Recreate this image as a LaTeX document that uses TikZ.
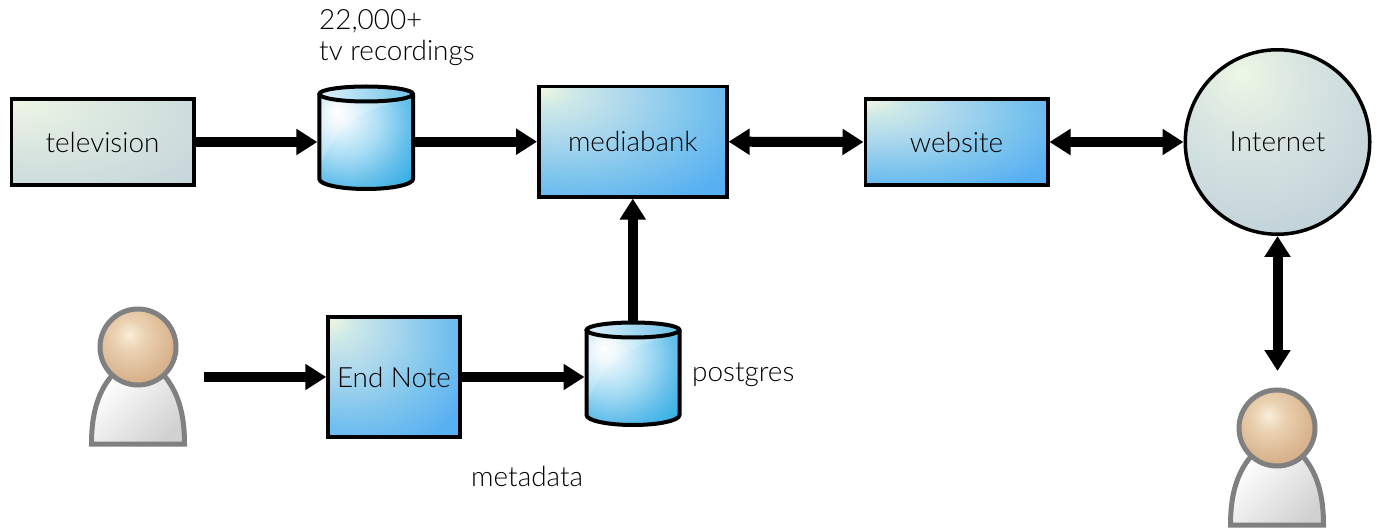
\documentclass[tikz,border=0pt]{standalone}
\usepackage{fontspec}
\setmainfont{Lato Light}
\usetikzlibrary{arrows.meta}
\definecolor{ink}{HTML}{000000}
\definecolor{headtop}{HTML}{F9EEDA}
\definecolor{headmid}{HTML}{EBD2B2}
\definecolor{headedge}{HTML}{D8B28C}
\definecolor{cylface}{HTML}{DFF2FB}
\definecolor{cylfaceb}{HTML}{6CC0E8}
\pgfdeclareradialshading{headshade}{\pgfpoint{-6bp}{8.5bp}}{color(0bp)=(headtop); color(10bp)=(headmid); color(28bp)=(headedge); color(100bp)=(headedge)}
\pgfdeclareradialshading{blueshade}{\pgfpoint{-25bp}{25bp}}{rgb(0bp)=(0.945,0.976,0.878); rgb(8bp)=(0.80,0.91,0.91); rgb(20bp)=(0.66,0.84,0.93); rgb(33bp)=(0.49,0.77,0.93); rgb(47bp)=(0.34,0.69,0.95); rgb(71bp)=(0.28,0.67,0.96); rgb(100bp)=(0.28,0.67,0.96)}
\pgfdeclareradialshading{grayshade}{\pgfpoint{-25bp}{25bp}}{rgb(0bp)=(0.93,0.97,0.90); rgb(20bp)=(0.86,0.91,0.88); rgb(45bp)=(0.79,0.85,0.86); rgb(71bp)=(0.72,0.80,0.84); rgb(100bp)=(0.72,0.80,0.84)}
\pgfdeclareradialshading{globeshade}{\pgfpoint{-10bp}{19bp}}{rgb(0bp)=(0.93,0.97,0.90); rgb(15bp)=(0.85,0.90,0.88); rgb(28bp)=(0.80,0.86,0.87); rgb(45bp)=(0.73,0.80,0.84); rgb(100bp)=(0.73,0.80,0.84)}
\pgfdeclareradialshading{cylshade}{\pgfpoint{-16bp}{16bp}}{rgb(0bp)=(1,1,1); rgb(6bp)=(0.93,0.97,0.99); rgb(20bp)=(0.67,0.87,0.96); rgb(33bp)=(0.40,0.75,0.92); rgb(46bp)=(0.16,0.67,0.89); rgb(100bp)=(0.16,0.67,0.89)}
\tikzset{
  x=1pt,y=-1pt,
  every node/.style={font=\fontsize{27.9}{31}\selectfont,text=ink},
  bluebox/.style={draw=black,line width=3.5pt,rectangle,inner sep=0pt,outer sep=1.75pt,shading=blueshade,minimum width=#1},
  graybox/.style={draw=black,line width=3.5pt,rectangle,inner sep=0pt,outer sep=1.75pt,shading=grayshade},
  globe/.style={circle,draw=black,line width=3.5pt,inner sep=0pt,outer sep=1.75pt,shading=globeshade},
  flow/.style={line width=10pt,draw=black,-{Triangle[length=21pt,width=25pt]}},
  flowboth/.style={line width=10pt,draw=black,{Triangle[length=21pt,width=25pt]}-{Triangle[length=21pt,width=25pt]}},
  anchorbox/.style={rectangle,inner sep=0pt,outer sep=0pt,draw=none},
  textlabel/.style={anchor=west,inner sep=0pt,align=left},
  personline/.style={draw=black!50,line width=5pt},
}
\newcommand{\cylpath}[4]{(#1,#3) -- (#1,#4) arc[start angle=180,end angle=0,x radius={(#2-#1)/2},y radius=10] -- (#2,#3)}
\newcommand{\cylinderat}[4]{% left right side-top side-bottom
  \shade[shading=cylshade] \cylpath{#1}{#2}{#3}{#4} -- cycle;
  \begin{scope}
    \clip \cylpath{#1}{#2}{#3}{#4} -- cycle;
    \fill[white,opacity=.18] (#1,#3) -- (#1,{#4-10}) .. controls ({#1+15},{#3+30}) and ({#1+50},{#3+8}) .. (#2,{#3+5}) -- (#2,{#3-15}) -- (#1,{#3-15}) -- cycle;
  \end{scope}
  \draw[black,line width=4pt,line join=round] \cylpath{#1}{#2}{#3}{#4};
  \draw[black,line width=4pt,left color=cylface,right color=cylfaceb] ({(#1+#2)/2},{#3-1}) ellipse[x radius={(#2-#1)/2},y radius=7.5];
}
\newcommand{\personat}[2]{%
  \begin{scope}[shift={(#1,#2)}]
    \filldraw[personline,top color=white,bottom color=black!18,shading angle=45]
      (-46.5,97) .. controls (-46.5,66) and (-40,44) .. (-24,26) -- (24,26) .. controls (40,44) and (46.5,66) .. (46.5,97) -- cycle;
    \shade[shading=headshade,draw=black!50,line width=5pt] (0,0) circle[radius=38];
  \end{scope}
}
\begin{document}
\begin{tikzpicture}
\useasboundingbox (0,0) rectangle (1378,529);
\node[graybox,minimum width=182.5pt,minimum height=86pt] (tv) at (102.5,142) {television};
\node[bluebox=188pt,minimum height=110.3pt] (mb) at (632.8,141.7) {mediabank};
\node[bluebox=182.5pt,minimum height=86pt] (web) at (956.5,142) {website};
\node[globe,minimum size=184.5pt] (net) at (1277.5,142) {Internet};
\node[bluebox=132pt,minimum height=120pt] (en) at (394,377) {End Note};
\cylinderat{319.3}{413}{95}{179}
\node[anchorbox,minimum width=97.7pt,minimum height=105pt] (rec) at (366.2,137.5) {};
\cylinderat{586.5}{679.5}{331}{415}
\node[anchorbox,minimum width=97pt,minimum height=105pt] (pg) at (633,373.5) {};
\personat{138}{347}
\personat{1277}{428}
\coordinate (src) at (204,377);
\coordinate (usr) at (1277.5,371);
\draw[flow] (tv.east) -- (tv.east -| rec.west);
\draw[flow] (rec.east |- mb.west) -- (mb.west);
\draw[flowboth] (mb.east) -- (web.west);
\draw[flowboth] (web.east) -- (net.west);
\draw[flowboth] (net.south) -- (usr);
\draw[flow] (src) -- (en.west);
\draw[flow] (en.east) -- (en.east -| pg.west);
\draw[flow] (pg.north -| mb.south) -- (mb.south);
\node[textlabel] (reclabel) at (319,38) {22,000+\\tv recordings};
\node[textlabel] (pglabel) at (692,375) {postgres};
\node[textlabel] (metalabel) at (471,476) {metadata};
\end{tikzpicture}
\end{document}
